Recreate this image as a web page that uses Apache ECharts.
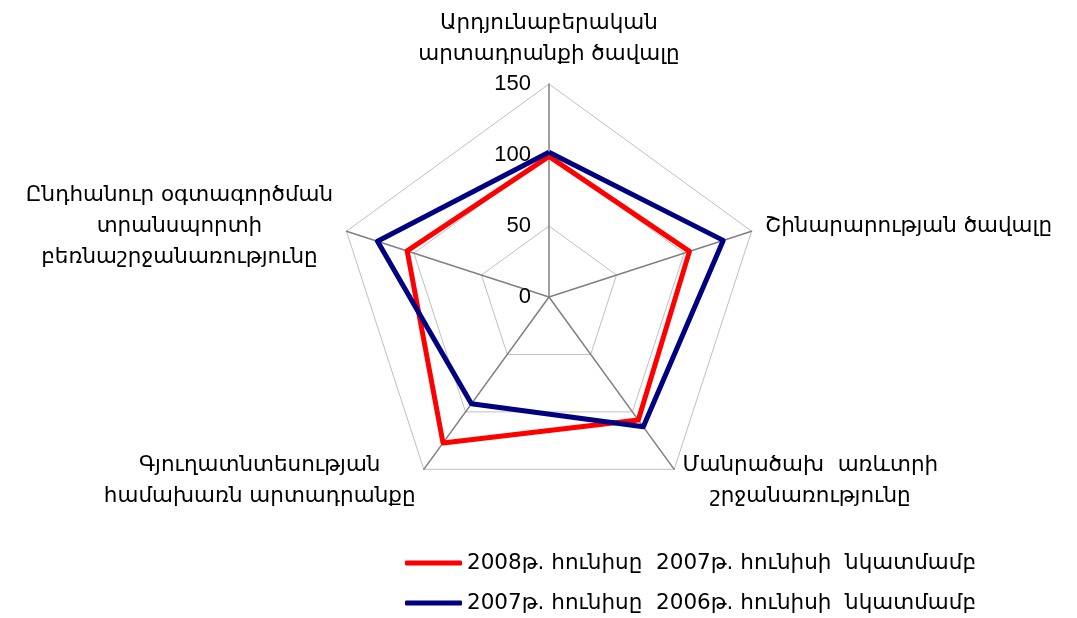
<!DOCTYPE html>
<html>
<head>
<meta charset="utf-8">
<script src="https://cdn.jsdelivr.net/npm/echarts@6/dist/echarts.min.js"></script>
<style>
  html, body { margin: 0; padding: 0; background: #fff; }
  #chart { width: 1077px; height: 618px; }
</style>
</head>
<body>
<div id="chart"></div>
<script>
// indicators in counter-clockwise order starting at the top
const indicatorNames = [
    'Արդյունաբերական\nարտադրանքի ծավալը',
    'Ընդհանուր օգտագործման\nտրանսպորտի\nբեռնաշրջանառությունը',
    'Գյուղատնտեսության\nհամախառն արտադրանքը',
    'Մանրածախ  առևտրի\nշրջանառությունը',
    'Շինարարության ծավալը'
];
const seriesNames = [
    '2008թ. հունիսը  2007թ. հունիսի  նկատմամբ',
    '2007թ. հունիսը  2006թ. հունիսի  նկատմամբ'
];
const values2008 = [99, 105, 127, 107, 104];
const values2007 = [102, 127, 93, 113, 129];
const axisMax = 150;

const armFont = '"DejaVu Sans", sans-serif';
const armSize = 21.5;

const chartDom = document.getElementById('chart');
const myChart = echarts.init(chartDom);

const indicator = indicatorNames.map((name, i) => {
    const ind = { name: name, min: 0, max: axisMax };
    if (i === 0) {
        // only the top axis carries the value labels
        ind.axisLabel = {
            show: true,
            color: '#000',
            fontSize: 22,
            fontFamily: '"Liberation Sans", Arial, sans-serif',
            margin: 18
        };
    }
    return ind;
});

myChart.setOption({
    animation: false,
    backgroundColor: '#fff',
    legend: {
        orient: 'vertical',
        left: 405,
        top: 552,
        height: 66,
        padding: 0,
        itemGap: 18,
        itemWidth: 57,
        itemHeight: 5,
        icon: 'roundRect',
        textStyle: { fontSize: armSize, color: '#000', fontFamily: armFont },
        data: seriesNames
    },
    radar: {
        center: [549, 297],
        radius: 213,
        startAngle: 90,
        splitNumber: 3,
        shape: 'polygon',
        indicator: indicator,
        axisName: {
            color: '#000',
            fontSize: armSize,
            fontFamily: armFont,
            lineHeight: 31,
            formatter: (v) => v.split('\n').map(s => '{c|' + s + '}').join('\n'),
            rich: { c: { align: 'center', fontSize: armSize, fontFamily: armFont, lineHeight: 31 } }
        },
        nameGap: 14,
        axisLabel: { show: false },
        axisLine: { lineStyle: { color: '#808080', width: 1.5 } },
        axisTick: { show: false },
        splitLine: { lineStyle: { color: '#c0c0c0', width: 1 } },
        splitArea: { show: false }
    },
    series: [{
        type: 'radar',
        symbol: 'none',
        data: [
            { name: seriesNames[0], value: values2008, lineStyle: { color: '#ff0000', width: 5 }, itemStyle: { color: '#ff0000' } },
            { name: seriesNames[1], value: values2007, lineStyle: { color: '#000080', width: 5 }, itemStyle: { color: '#000080' } }
        ]
    }]
});
</script>
</body>
</html>
